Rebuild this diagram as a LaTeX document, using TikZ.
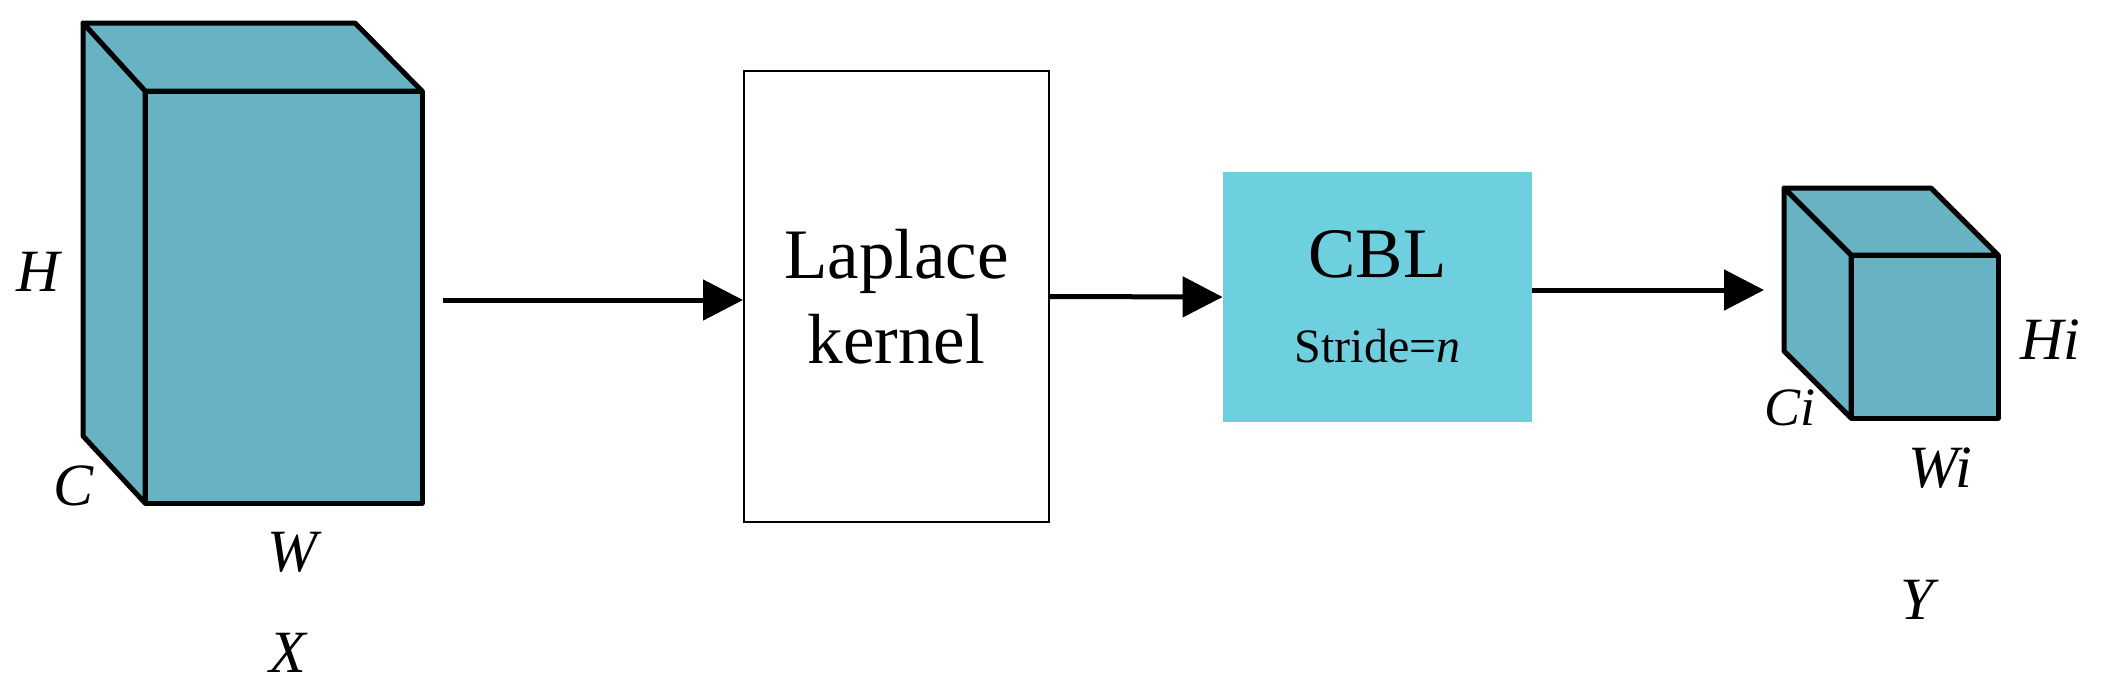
\documentclass[tikz,border=0pt]{standalone}
\usepackage{fontspec}
\setmainfont{Liberation Serif}
\usetikzlibrary{arrows.meta}
\definecolor{cubeblue}{HTML}{67B2C3}
\definecolor{cblcyan}{HTML}{6ECFDF}
\tikzset{
  cube/.style={fill=cubeblue,draw=black,line width=2.5pt,line join=round},
  lbl/.style={font=\fontsize{30}{36}\selectfont\itshape},
  flow/.style={-{Triangle[length=20pt,width=20pt]},line width=2.5pt},
  boxtext/.style={align=center,font=\fontsize{35.5}{42.5}\selectfont}
}
\begin{document}
\begin{tikzpicture}[x=0.5pt,y=-0.5pt]
  \useasboundingbox (0,0) rectangle (2103,698);

  \draw[cube] (83,23) -- (355,23) -- (422,91) -- (145,91) -- cycle;
  \draw[cube] (83,23) -- (145,91) -- (145,503) -- (83,436) -- cycle;
  \draw[cube] (145,91) rectangle (422,503);
  \node[lbl] (h) at (38,272) {H};
  \node[lbl] (c) at (74,486) {C};
  \node[lbl] (w) at (292,552) {W};
  \node[lbl] (x) at (288,653) {X};

  \node[boxtext,draw,line width=1pt,minimum width=152.5pt,minimum height=225.5pt,inner sep=0pt]
    (lap) at (896.5,296.5) {Laplace\\kernel};
  \node[boxtext,fill=cblcyan,minimum width=154.5pt,minimum height=125pt,inner sep=0pt]
    (cbl) at (1377.5,297) {CBL\\{\fontsize{24}{28}\selectfont Stride=\textit{n}}};

  \draw[cube] (1784,188) -- (1931,188) -- (1998,255) -- (1851,255) -- cycle;
  \draw[cube] (1784,188) -- (1851,255) -- (1851,418) -- (1784,351) -- cycle;
  \draw[cube] (1851,255) rectangle (1998,418);
  \node[lbl] (hi) at (2050,340) {Hi};
  \node[lbl,font=\fontsize{27}{32}\selectfont\itshape] (ci) at (1790,408) {Ci};
  \node[lbl] (wi) at (1940,468) {Wi};
  \node[lbl] (y) at (1917,600) {Y};

  \coordinate (xout) at (443,300);
  \coordinate (yin) at (1764,290);
  \draw[flow] (xout) -- (xout -| lap.west);
  \draw[flow] (lap.east) -- (cbl.west);
  \draw[flow] (cbl.east |- yin) -- (yin);
\end{tikzpicture}
\end{document}
